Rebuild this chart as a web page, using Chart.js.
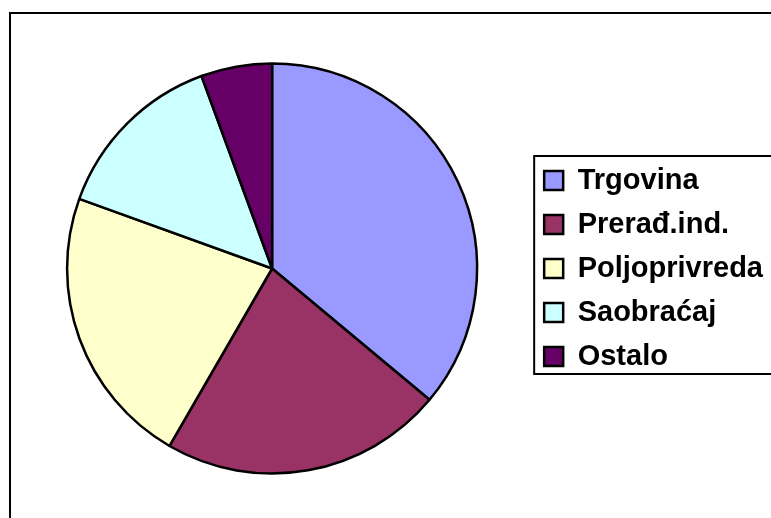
<!DOCTYPE html>
<html>
<head>
<meta charset="utf-8">
<script src="https://cdn.jsdelivr.net/npm/chart.js@4"></script>
<style>
  html, body { margin: 0; padding: 0; background: #fff; overflow: hidden; }
  #wrap { width: 771px; height: 518px; overflow: hidden; }
</style>
</head>
<body>
<div id="wrap"><canvas id="pieChart" width="800" height="540"></canvas></div>
<script>
const categories = ["Trgovina", "Prerađ.ind.", "Poljoprivreda", "Saobraćaj", "Ostalo"];
const shares = [36.1, 22.3, 22.2, 13.9, 5.6];
const sliceColors = ["#9999FF", "#993366", "#FFFFCC", "#CCFFFF", "#660066"];

/* okvir grafikona i okvir legende */
const framePlugin = {
    id: "frames",
    afterDraw(chart) {
        const ctx = chart.ctx;
        ctx.save();
        ctx.strokeStyle = "#000";
        ctx.lineWidth = 2;
        ctx.beginPath();
        ctx.moveTo(10, chart.height + 5);
        ctx.lineTo(10, 13);
        ctx.lineTo(chart.width + 5, 13);
        ctx.stroke();

        const boxes = chart.legend.legendHitBoxes;
        if (boxes && boxes.length) {
            const first = boxes[0];
            const last = boxes[boxes.length - 1];
            const top = first.top - 10;
            const bottom = last.top + last.height + 3;
            ctx.strokeRect(first.left - 10, top, chart.width, bottom - top);
        }
        ctx.restore();
    }
};

new Chart(document.getElementById("pieChart"), {
    type: "pie",
    data: {
        labels: categories,
        datasets: [{
            data: shares,
            backgroundColor: sliceColors,
            borderColor: "#000",
            borderWidth: 2.5
        }]
    },
    options: {
        responsive: false,
        animation: false,
        radius: 205,
        layout: {
            padding: { left: 15, right: 27, top: 0, bottom: 3 }
        },
        plugins: {
            tooltip: { enabled: false },
            legend: {
                position: "right",
                labels: {
                    color: "#000",
                    boxWidth: 19,
                    boxHeight: 19,
                    padding: 15,
                    font: { family: "'Liberation Sans', Arial, sans-serif", size: 29, weight: "bold" }
                }
            }
        }
    },
    plugins: [framePlugin]
});
</script>
</body>
</html>
